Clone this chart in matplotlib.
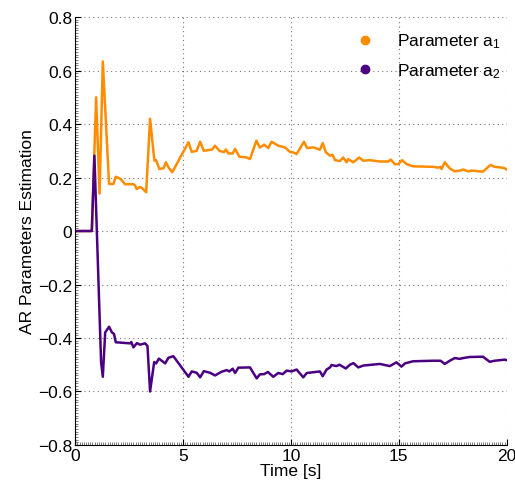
import numpy as np
import matplotlib
matplotlib.use('Agg')
import matplotlib.pyplot as plt
from matplotlib.ticker import MultipleLocator

plt.rcParams['font.family'] = ['Liberation Sans', 'DejaVu Sans']
plt.rcParams['mathtext.fontset'] = 'custom'
plt.rcParams['mathtext.rm'] = 'Liberation Sans'
plt.rcParams['mathtext.it'] = 'Liberation Sans'

# estimated AR(2) coefficients over time
t_a1 = [0, 0.77, 0.97, 1.13, 1.28, 1.57, 1.77, 1.88, 2.1, 2.31, 2.7, 2.78, 2.85, 3.0, 3.1,
        3.29, 3.47, 3.67, 3.75, 3.9, 4.1, 4.2, 4.35, 4.5, 5.25, 5.4, 5.63, 5.79, 5.96, 6.35,
        6.48, 6.68, 6.9, 6.99, 7.1, 7.3, 7.41, 7.61, 7.95, 8.1, 8.4, 8.56, 8.76, 8.95, 9.1,
        9.41, 9.72, 9.95, 10.1, 10.26, 10.42, 10.6, 10.75, 11.03, 11.34, 11.47, 11.62, 11.81,
        11.93, 12.04, 12.27, 12.42, 12.58, 12.65, 12.89, 13.16, 13.35, 13.66, 14.12, 14.5,
        14.63, 14.81, 14.97, 15.15, 15.36, 15.66, 16.59, 16.82, 16.93, 16.98, 17.13, 17.36,
        17.59, 17.82, 17.98, 18.21, 18.36, 18.9, 19.24, 19.44, 19.68, 19.86, 20]
a1 = [0, 0, 0.50, 0.14, 0.634, 0.176, 0.176, 0.203, 0.195, 0.175, 0.175, 0.17, 0.157, 0.165,
      0.16, 0.145, 0.42, 0.263, 0.265, 0.232, 0.235, 0.257, 0.235, 0.22, 0.332, 0.296, 0.30,
      0.334, 0.30, 0.305, 0.319, 0.30, 0.295, 0.305, 0.29, 0.29, 0.307, 0.278, 0.275, 0.269,
      0.338, 0.312, 0.323, 0.31, 0.334, 0.319, 0.313, 0.296, 0.294, 0.288, 0.309, 0.334, 0.31,
      0.313, 0.304, 0.329, 0.294, 0.282, 0.285, 0.265, 0.262, 0.275, 0.257, 0.269, 0.257,
      0.275, 0.263, 0.265, 0.26, 0.26, 0.267, 0.25, 0.25, 0.265, 0.25, 0.242, 0.24, 0.237,
      0.24, 0.232, 0.257, 0.234, 0.223, 0.226, 0.23, 0.223, 0.226, 0.222, 0.247, 0.24, 0.238,
      0.236, 0.23]

t_a2 = [0, 0.77, 0.89, 1.2, 1.28, 1.39, 1.57, 1.7, 1.8, 1.88, 2.55, 2.6, 2.7, 2.86, 3.0, 3.24,
        3.35, 3.47, 3.66, 3.75, 3.88, 4.17, 4.32, 4.55, 5.25, 5.4, 5.63, 5.79, 5.96, 6.25,
        6.48, 6.79, 7.02, 7.14, 7.3, 7.41, 7.56, 8.1, 8.41, 8.56, 8.76, 8.93, 9.18, 9.41,
        9.62, 9.8, 10.03, 10.26, 10.57, 10.73, 11.34, 11.47, 11.65, 11.81, 11.88, 12.1, 12.25,
        12.54, 12.73, 12.89, 13.12, 13.35, 14.12, 14.58, 14.89, 15.12, 15.28, 15.66, 16.59,
        16.93, 17.13, 17.36, 17.59, 17.82, 17.98, 18.29, 18.9, 19.21, 19.44, 19.9, 20]
a2 = [0, 0, 0.282, -0.49, -0.545, -0.379, -0.358, -0.379, -0.385, -0.416, -0.42, -0.415,
      -0.435, -0.419, -0.425, -0.42, -0.43, -0.6, -0.49, -0.495, -0.477, -0.495, -0.474,
      -0.468, -0.545, -0.525, -0.53, -0.547, -0.524, -0.53, -0.54, -0.526, -0.52, -0.525,
      -0.515, -0.531, -0.511, -0.51, -0.551, -0.536, -0.535, -0.527, -0.545, -0.531, -0.535,
      -0.522, -0.525, -0.518, -0.547, -0.531, -0.525, -0.543, -0.518, -0.51, -0.501, -0.505,
      -0.5, -0.514, -0.5, -0.494, -0.51, -0.503, -0.497, -0.505, -0.491, -0.507, -0.495,
      -0.487, -0.485, -0.485, -0.497, -0.485, -0.475, -0.478, -0.475, -0.471, -0.47, -0.489,
      -0.485, -0.481, -0.483]

ORANGE = '#ff8c00'
PURPLE = '#4b0082'
FS = 12.5

fig = plt.figure(figsize=(5.15, 4.89), dpi=100)
ax = fig.add_axes([0.146, 0.088, 0.838, 0.875])

ax.plot(t_a1, a1, color=ORANGE, lw=1.8)
ax.plot(t_a2, a2, color=PURPLE, lw=1.8)

# legend shows only dot markers
ax.plot([], [], 'o', color=ORANGE, ms=6, label='Parameter a$_1$')
ax.plot([], [], 'o', color=PURPLE, ms=6, label='Parameter a$_2$')
leg = ax.legend(loc='upper right', frameon=False, fontsize=FS, handletextpad=1.0,
                handlelength=1.6, borderaxespad=0.2, labelspacing=0.6,
                bbox_to_anchor=(1.01, 0.99))

ax.set_xlim(0, 20)
ax.set_ylim(-0.8, 0.8)
ax.set_xticks([0, 5, 10, 15, 20])
ax.set_yticks(np.arange(-0.8, 0.81, 0.2))
ax.set_yticklabels(['\u22120.8', '\u22120.6', '\u22120.4', '\u22120.2', '0',
                    '0.2', '0.4', '0.6', '0.8'])
ax.xaxis.set_minor_locator(MultipleLocator(0.1))
ax.yaxis.set_minor_locator(MultipleLocator(0.01))
ax.tick_params(which='both', direction='in', labelsize=FS, top=False, right=False)
ax.tick_params(which='major', length=4, pad=2)
ax.tick_params(which='minor', length=2, color='#666666')

ax.grid(True, which='major', color='#777777', lw=0.8, linestyle=(0, (1, 3)))
ax.spines['top'].set_visible(False)
ax.spines['right'].set_visible(False)

ax.set_xlabel('Time [s]', fontsize=FS, labelpad=0)
ax.set_ylabel('AR Parameters Estimation', fontsize=FS, labelpad=2)

fig.savefig('out.png', dpi=100)
